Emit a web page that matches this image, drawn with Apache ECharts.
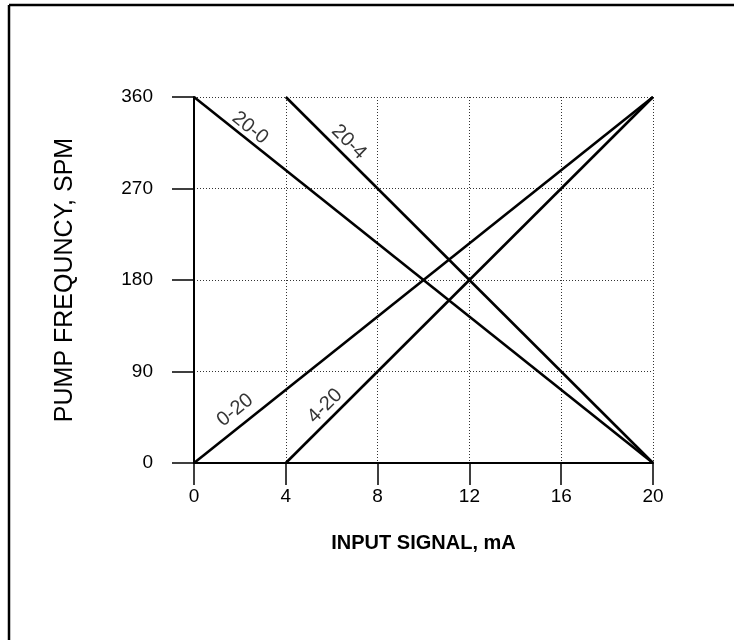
<!DOCTYPE html>
<html>
<head>
<meta charset="utf-8">
<script src="https://cdn.jsdelivr.net/npm/echarts@6/dist/echarts.min.js"></script>
<style>html,body{margin:0;padding:0;background:#fff}#c{width:734px;height:640px}</style>
</head>
<body>
<div id="c"></div>
<script>
// Data
const xTicks = [0, 4, 8, 12, 16, 20];
const yTicks = [0, 90, 180, 270, 360];
const seriesNames = ['0-20', '4-20', '20-0', '20-4'];
const line0to20 = [[0, 0], [20, 360]];
const line4to20 = [[4, 0], [20, 360]];
const line20to0 = [[0, 360], [20, 0]];
const line20to4 = [[4, 360], [20, 0]];
// label anchor points (data coords) and rotation along the lines
const labelPoints = [[1.79, 52], [5.71, 56], [2.44, 329.5], [6.75, 315.7]];
const labelAngles = [38.6, 45, -38.6, -45];

const font = 'Liberation Sans, Arial, sans-serif';
const chart = echarts.init(document.getElementById('c'), null, {renderer: 'canvas'});
const lines = [line0to20, line4to20, line20to0, line20to4];

const series = lines.map((d, i) => ({
  name: seriesNames[i],
  type: 'line',
  data: d,
  symbol: 'none',
  lineStyle: {color: '#000', width: 2.6},
  silent: true,
  z: 3
}));
series.push({
  type: 'scatter',
  data: labelPoints.map((p, i) => ({value: p, name: seriesNames[i],
    label: {rotate: labelAngles[i]}})),
  symbolSize: 0,
  silent: true,
  label: {show: true, position: 'inside', formatter: p => p.name,
    color: '#000', fontSize: 20, fontFamily: font, textBorderWidth: 0},
  z: 4
});

chart.setOption({
  animation: false,
  backgroundColor: '#fff',
  grid: {left: 194, right: 81, top: 97, bottom: 177, containLabel: false},
  xAxis: {
    type: 'value', min: 0, max: 20, interval: 4,
    name: 'INPUT SIGNAL, mA', nameLocation: 'middle', nameGap: 70,
    nameTextStyle: {fontSize: 20, fontWeight: 'bold', color: '#000', fontFamily: font},
    axisLine: {show: true, onZero: false, lineStyle: {color: '#000', width: 2}},
    axisTick: {show: true, length: 22, inside: false, lineStyle: {color: '#000', width: 1.5}},
    axisLabel: {margin: 24, fontSize: 19, color: '#000', fontFamily: font,
      formatter: v => xTicks.includes(v) ? String(v) : ''},
    splitLine: {show: true, lineStyle: {color: '#333', type: [1, 2], width: 1}}
  },
  yAxis: {
    type: 'value', min: 0, max: 360, interval: 90,
    name: 'PUMP FREQUNCY, SPM', nameLocation: 'middle', nameGap: 116, nameRotate: 90,
    nameTextStyle: {fontSize: 25, color: '#000', fontFamily: font},
    axisLine: {show: true, onZero: false, lineStyle: {color: '#000', width: 2}},
    axisTick: {show: true, length: 22, inside: false, lineStyle: {color: '#000', width: 1.5}},
    axisLabel: {margin: 41, fontSize: 19, color: '#000', fontFamily: font,
      formatter: v => yTicks.includes(v) ? String(v) : ''},
    splitLine: {show: true, lineStyle: {color: '#333', type: [1, 2], width: 1}}
  },
  graphic: [
    {type: 'line', shape: {x1: 9, y1: 5, x2: 734, y2: 5}, style: {stroke: '#000', lineWidth: 2.5}},
    {type: 'line', shape: {x1: 9, y1: 5, x2: 9, y2: 640}, style: {stroke: '#000', lineWidth: 2.5}}
  ],
  series: series
});
</script>
</body>
</html>
